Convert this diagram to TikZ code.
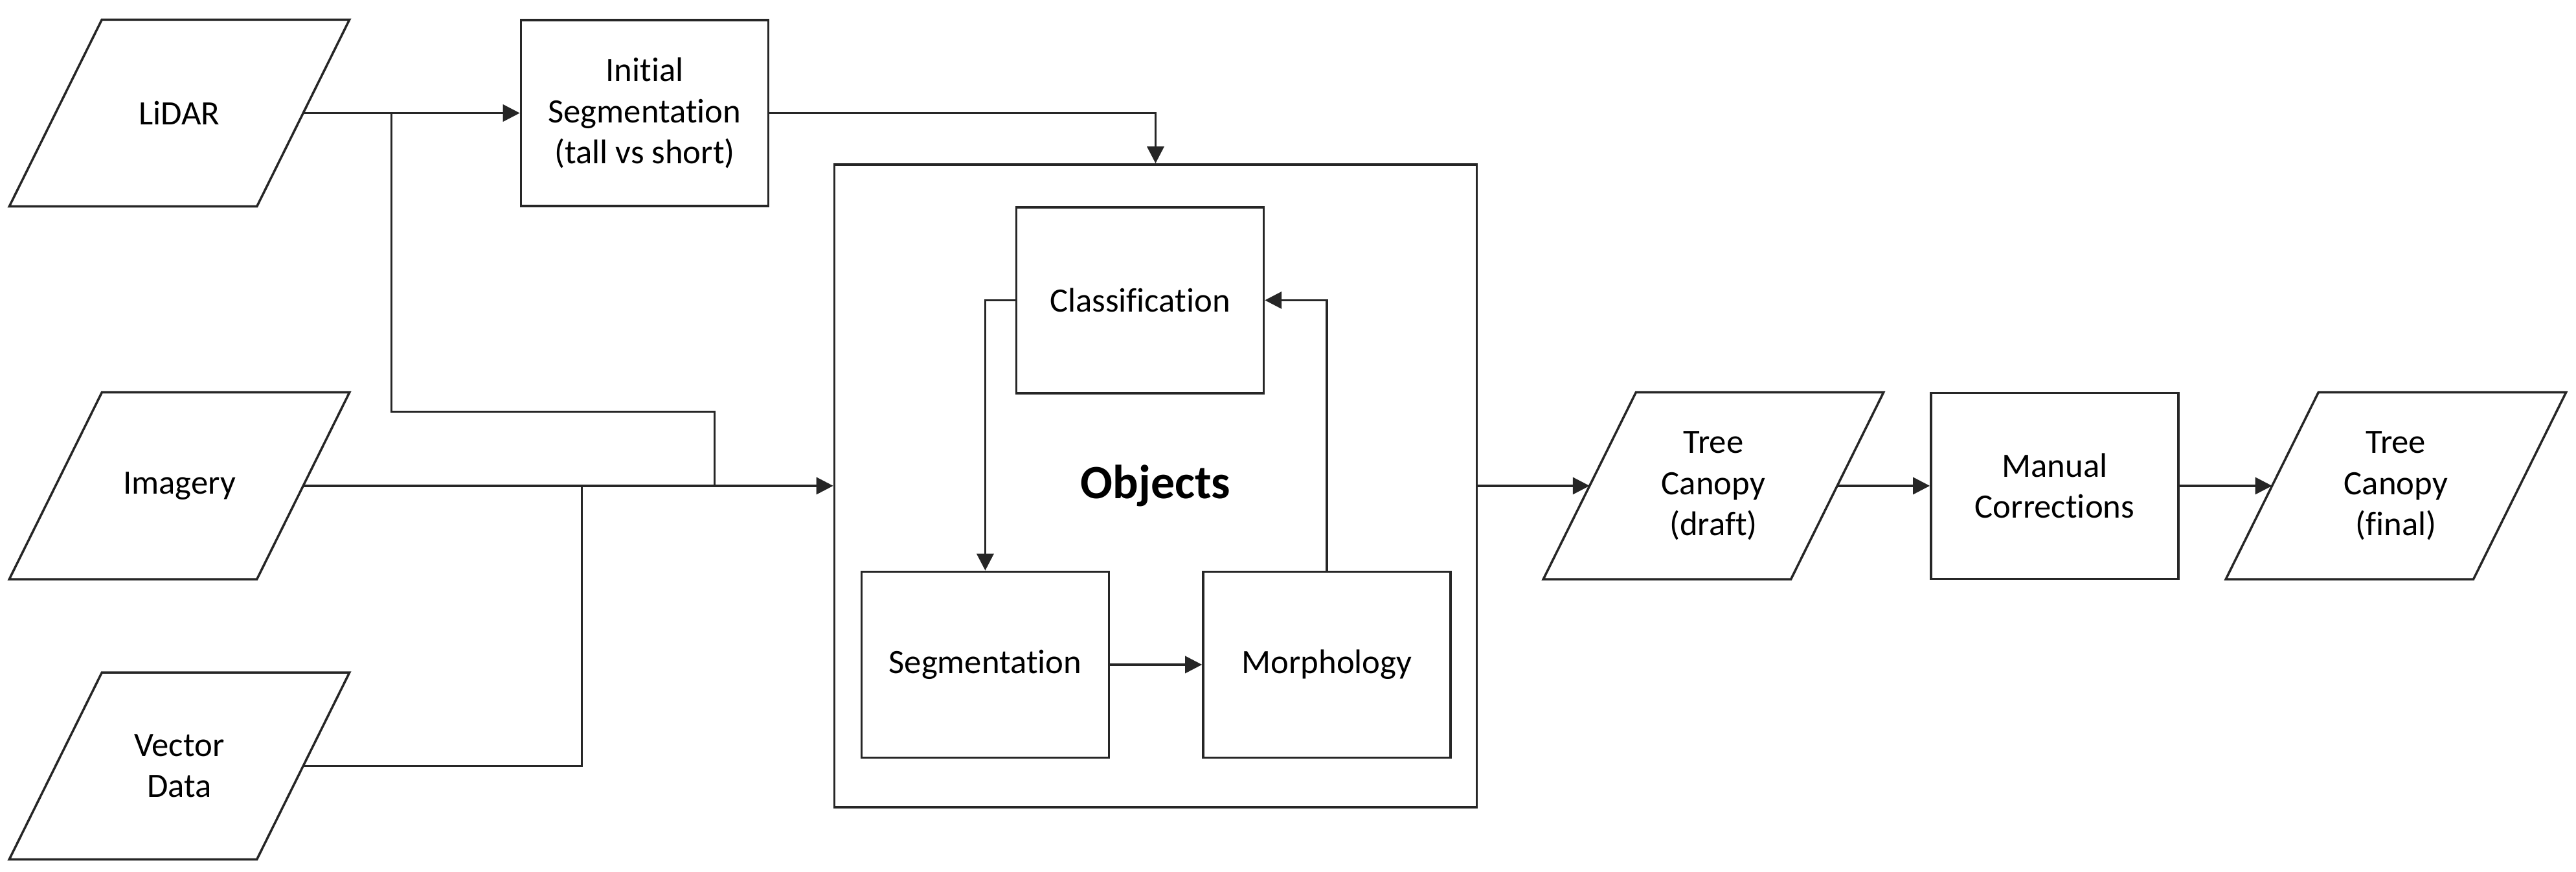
\documentclass[tikz,border=0pt]{standalone}
\usepackage{fontspec}
\setmainfont{Carlito}[Ligatures=CommonOff]
\usetikzlibrary{arrows.meta, positioning, calc}

\begin{document}
\begin{tikzpicture}[node distance=1.43cm and 1.43cm, >={Triangle[length=2.6mm, width=2.6mm]},
        proc/.style={rectangle, draw=black!85, line width=1pt, fill=white, minimum width=3.82cm, minimum height=2.87cm, align=center, inner sep=2pt, font=\fontsize{15}{18}\selectfont},
        data/.style={rectangle, minimum width=3.81cm, minimum height=2.87cm, align=center, inner sep=2pt, font=\fontsize{15}{18}\selectfont},
        group/.style={rectangle, draw=black!85, line width=1pt, minimum width=9.92cm, minimum height=9.92cm, font=\bfseries\fontsize{21}{25}\selectfont},
        line/.style={draw=black!85, line width=1pt},
        link/.style={line, ->}]

        \useasboundingbox (0,0) rectangle (39.78,-13.45);

        % Inputs
        \node [data] (lidar) at (2.77,-1.745) {LiDAR};
        \node [data, below=2.87cm of lidar] (imagery) {Imagery};
        \node [data, below=1.44cm of imagery] (vector) {Vector\\Data};
        \node [proc, right=3.345cm of lidar] (initseg) {Initial\\Segmentation\\(tall vs short)};

        % Object based part
        \node [group, right=8.185cm of imagery] (objects) {Objects};
        \node [proc, below=0.66cm of objects.north, xshift=-0.24cm] (classif) {Classification};
        \node [proc, below=2.72cm of classif, xshift=-2.39cm] (segm) {Segmentation};
        \node [proc, right=1.42cm of segm] (morph) {Morphology};

        % Outputs
        \node [data, right=1.725cm of objects] (draft) {Tree\\Canopy\\(draft)};
        \node [proc, right=of draft] (manual) {Manual\\Corrections};
        \node [data, right=of manual] (final) {Tree\\Canopy\\(final)};

        % Slanted outline of the data nodes
        \foreach \n in {lidar, imagery, vector, draft, final}
            \draw [line] ([xshift=-0.715cm]\n.south west) -- ([xshift=0.715cm]\n.north west)
                -- ([xshift=0.715cm]\n.north east) -- ([xshift=-0.715cm]\n.south east) -- cycle;

        % Junction points on the input lines
        \coordinate (lsplit) at ([xshift=1.365cm]lidar.east);
        \coordinate (imerge) at ([xshift=6.355cm]imagery.east);
        \coordinate (vmerge) at ([xshift=4.305cm]imagery.east);

        % Paths
        \path [link] (lidar.east) -- (initseg.west);
        \path [line] (lsplit) -- ++(0,-4.61) -| (imerge);
        \path [link] (imagery.east) -- (objects.west);
        \path [line] (vector.east) -| (vmerge);
        \path [link] (initseg.east) -| (objects.north);

        \path [link] (classif.west) -| (segm.north);
        \path [link] (segm.east) -- (morph.west);
        \path [link] (morph.north) |- (classif.east);

        \path [link] (objects.east) -- (draft.west);
        \path [link] (draft.east) -- (manual.west);
        \path [link] (manual.east) -- (final.west);
\end{tikzpicture}
\end{document}
